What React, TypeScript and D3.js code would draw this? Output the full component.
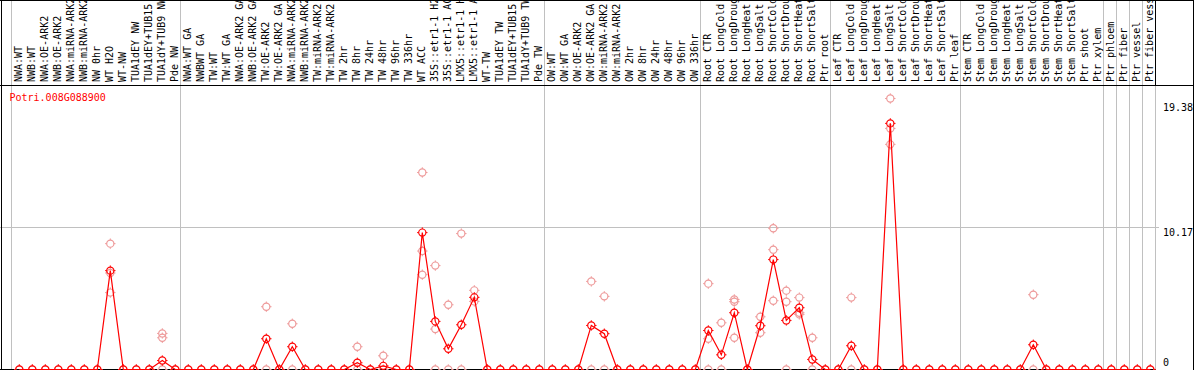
import React, { useEffect, useRef } from 'react';
import * as d3 from 'd3';

const geneName = 'Potri.008G088900';

const categories = [
  'NWA:WT', 'NWB:WT', 'NWA:OE-ARK2', 'NWB:OE-ARK2', 'NWA:miRNA-ARK2', 'NWB:miRNA-ARK2',
  'NW 0hr', 'WT H2O', 'WT-NW', 'TUA1dEY NW', 'TUA1dEY+TUB15 NW', 'TUA1dY+TUB9 NW', 'Pde NW',
  'NWA:WT GA', 'NWBWT GA', 'TW:WT', 'TW:WT GA', 'NWA:OE-ARK2 GA', 'NWB:OE-ARK2 GA',
  'TW:OE-ARK2', 'TW:OE-ARK2 GA', 'NWA:miRNA-ARK2 GA', 'NWB:miRNA-ARK2 GA', 'TW:miRNA-ARK2',
  'TW:miRNA-ARK2 GA', 'TW 2hr', 'TW 8hr', 'TW 24hr', 'TW 48hr', 'TW 96hr', 'TW 336hr',
  'WT ACC', '35S::etr1-1 H2O', '35S::etr1-1 ACC', 'LMX5::etr1-1 H2O', 'LMX5::etr1-1 ACC',
  'WT-TW', 'TUA1dEY TW', 'TUA1dEY+TUB15 TW', 'TUA1dY+TUB9 TW', 'Pde TW',
  'OW:WT', 'OW:WT GA', 'OW:OE-ARK2', 'OW:OE-ARK2 GA', 'OW:miRNA-ARK2', 'OW:miRNA-ARK2 GA',
  'OW 2hr', 'OW 8hr', 'OW 24hr', 'OW 48hr', 'OW 96hr', 'OW 336hr',
  'Root CTR', 'Root LongCold', 'Root LongDrought', 'Root LongHeat', 'Root LongSalt',
  'Root ShortCold', 'Root ShortDrought', 'Root ShortHeat', 'Root ShortSalt', 'Ptr root',
  'Leaf CTR', 'Leaf LongCold', 'Leaf LongDrought', 'Leaf LongHeat', 'Leaf LongSalt',
  'Leaf ShortCold', 'Leaf ShortDrought', 'Leaf ShortHeat', 'Leaf ShortSalt', 'Ptr leaf',
  'Stem CTR', 'Stem LongCold', 'Stem LongDrought', 'Stem LongHeat', 'Stem LongSalt',
  'Stem ShortCold', 'Stem ShortDrought', 'Stem ShortHeat', 'Stem ShortSalt', 'Ptr shoot',
  'Ptr xylem', 'Ptr phloem', 'Ptr fiber', 'Ptr vessel', 'Ptr fiber vessel',
];

// index of first category in each group (plus the end)
const groupBreaks = [0, 13, 41, 53, 63, 73, 84, 85, 86, 87, 88];

const means = [
  0, 0, 0, 0, 0, 0, 0, 7.07, 0, 0, 0, 0.64, 0,
  0, 0, 0, 0, 0, 0, 2.2, 0, 1.63, 0, 0, 0, 0, 0.48, 0, 0.26, 0, 0,
  9.79, 3.44, 1.48, 3.2, 5.16, 0, 0, 0, 0, 0,
  0, 0, 0, 3.15, 2.56, 0, 0, 0, 0, 0, 0, 0,
  2.79, 1.05, 4.06, 0, 3.13, 7.86, 3.51, 4.42, 0.72, 0,
  0, 1.7, 0, 0, 17.6, 0, 0, 0, 0, 0,
  0, 0, 0, 0, 0, 1.77, 0, 0, 0, 0, 0,
  0, 0, 0, 0,
];

// replicate values that differ from zero (others sit at 0)
const replicates: number[][] = [
  [0], [0], [0], [0], [0], [0], [0], [9.0, 6.9, 5.5], [0], [0], [0], [2.58, 2.27, 0], [0],
  [0], [0], [0], [0], [0], [0], [4.49, 0], [0], [3.27, 0], [0], [0], [0], [0], [1.63, 0], [0], [0.98, 0], [0], [0],
  [14.09, 8.47, 6.78], [7.43, 2.89, 0], [4.63, 0], [9.72, 0], [5.66, 4.87], [0], [0], [0], [0], [0],
  [0], [0], [0], [6.3, 0], [5.23, 0], [0], [0], [0], [0], [0], [0], [0],
  [6.14, 2.2, 0], [3.34, 0], [5.01, 4.85, 2.27], [0], [3.77, 2.63], [10.1, 8.57, 4.92], [5.64, 4.85, 0], [5.14, 4.06, 3.94], [2.27, 0], [0],
  [0], [5.14, 0], [0], [0], [19.38, 17.24, 16.1], [0], [0], [0], [0], [0],
  [0], [0], [0], [0], [0], [5.35, 0], [0], [0], [0], [0], [0],
  [0], [0], [0], [0],
];

const yTicks = [0, 10.17, 19.38];

const W = 1194;
const H = 370;

export default function App() {
  const svgRef = useRef<SVGSVGElement>(null);

  useEffect(() => {
    if (!svgRef.current) return;
    const svg = d3.select(svgRef.current);
    svg.selectAll('*').remove();

    const font = '"DejaVu Sans Mono", monospace';
    const headerBottom = 85.5;
    const plotRight = 1155.5;

    const x = d3.scalePoint<string>()
      .domain(categories)
      .range([19.3, 19.3 + 13 * (categories.length - 1)]);

    const y = d3.scaleLinear()
      .domain([0, 19.38])
      .range([369.5, 98.5]);

    const sepX = (i: number) => (i < categories.length ? x(categories[i])! : x(categories[categories.length - 1])! + 13) - 8.3;

    // horizontal grid (10.17)
    svg.append('g')
      .selectAll('line')
      .data(yTicks.filter(t => t > 0 && t < 19))
      .join('line')
      .attr('x1', 0)
      .attr('x2', plotRight + 3)
      .attr('y1', d => Math.round(y(d)) + 0.5)
      .attr('y2', d => Math.round(y(d)) + 0.5)
      .attr('stroke', '#c0c0c0')
      .attr('shape-rendering', 'crispEdges');

    // group separators
    svg.append('g')
      .selectAll('line')
      .data(groupBreaks)
      .join('line')
      .attr('x1', d => Math.round(sepX(d)) + 0.5)
      .attr('x2', d => Math.round(sepX(d)) + 0.5)
      .attr('y1', 0)
      .attr('y2', H)
      .attr('stroke', '#c0c0c0')
      .attr('shape-rendering', 'crispEdges');

    // frame
    const frame = svg.append('g').attr('stroke', '#000').attr('shape-rendering', 'crispEdges');
    frame.append('line').attr('x1', 0).attr('x2', W).attr('y1', 0.5).attr('y2', 0.5);
    frame.append('line').attr('x1', 0).attr('x2', W).attr('y1', headerBottom).attr('y2', headerBottom);
    frame.append('line').attr('x1', 1.5).attr('x2', 1.5).attr('y1', 0).attr('y2', H);
    frame.append('line').attr('x1', W - 0.5).attr('x2', W - 0.5).attr('y1', 0).attr('y2', H);
    frame.append('line').attr('x1', plotRight).attr('x2', plotRight).attr('y1', 0).attr('y2', headerBottom);
    frame.append('line').attr('x1', 0).attr('x2', plotRight).attr('y1', y(0)).attr('y2', y(0));

    // category labels
    svg.append('g')
      .selectAll('text')
      .data(categories)
      .join('text')
      .attr('transform', d => `translate(${x(d)! + 2.8},82) rotate(-90)`)
      .attr('font-family', font)
      .attr('font-size', 10)
      .attr('fill', '#000')
      .text(d => d);

    const marker = (g: d3.Selection<SVGGElement, unknown, null, undefined>, pts: [number, number][], color: string) => {
      g.selectAll('circle')
        .data(pts)
        .join('circle')
        .attr('cx', d => d[0])
        .attr('cy', d => d[1])
        .attr('r', 3.6)
        .attr('fill', 'none')
        .attr('stroke', color)
        .attr('stroke-width', 1.2);
      g.selectAll('path')
        .data(pts)
        .join('path')
        .attr('d', d => `M${d[0]},${d[1] - 5.2}v1.6M${d[0]},${d[1] + 3.6}v1.6M${d[0] - 5.2},${d[1]}h1.6M${d[0] + 3.6},${d[1]}h1.6`)
        .attr('stroke', color)
        .attr('stroke-width', 1);
    };

    // replicate points
    const repPts: [number, number][] = [];
    replicates.forEach((vals, i) => vals.forEach(v => repPts.push([x(categories[i])!, y(v)])));
    marker(svg.append('g'), repPts, '#ee9a9a');

    // mean line
    const line = d3.line<number>()
      .x((d, i) => x(categories[i])!)
      .y(d => y(d));
    svg.append('path')
      .datum(means)
      .attr('fill', 'none')
      .attr('stroke', '#ff0000')
      .attr('stroke-width', 1.2)
      .attr('d', line);

    const meanPts: [number, number][] = means.map((v, i) => [x(categories[i])!, y(v)]);
    marker(svg.append('g'), meanPts, '#ff0000');

    // gene name
    svg.append('text')
      .attr('x', 9.5)
      .attr('y', 100.5)
      .attr('font-family', font)
      .attr('font-size', 10)
      .attr('fill', '#ff0000')
      .text(geneName);

    // y tick labels
    svg.append('g')
      .selectAll('text')
      .data(yTicks)
      .join('text')
      .attr('x', 1163)
      .attr('y', d => (d === 0 ? y(d) - 4 : d > 19 ? y(d) + 12 : y(d) + 8.5))
      .attr('font-family', font)
      .attr('font-size', 10)
      .attr('fill', '#000')
      .text(d => String(d));
  }, []);

  return (
    <svg
      ref={svgRef}
      width={W}
      height={H}
      viewBox={`0 0 ${W} ${H}`}
      style={{ position: 'absolute', left: 0, top: 0, background: '#fff' }}
    />
  );
}
